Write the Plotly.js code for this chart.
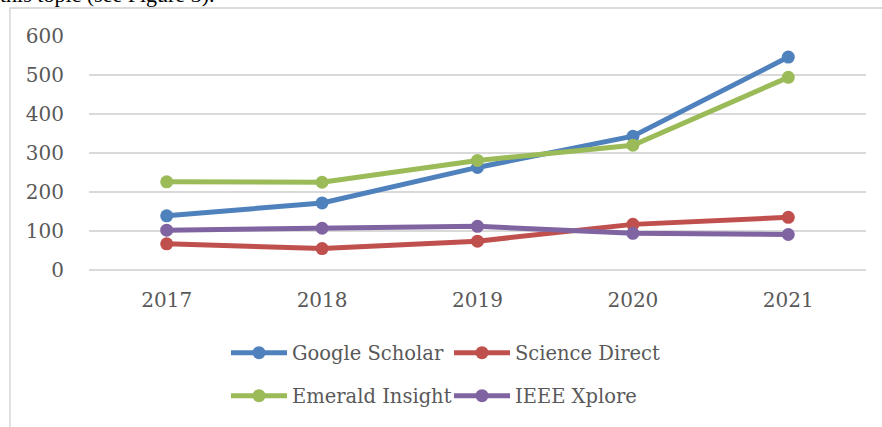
<!DOCTYPE html>
<html><head><meta charset="utf-8">
<script src="https://cdn.plot.ly/plotly-3.0.1.min.js"></script>
<style>body{margin:0;background:#fff}#chart{width:882px;height:427px}</style>
</head><body><div id="chart"></div>
<script>
const years = ['2017', '2018', '2019', '2020', '2021'];
const googleScholar = [139, 172, 263, 343, 546];
const scienceDirect = [67, 55, 74, 117, 135];
const emeraldInsight = [226, 225, 281, 320, 494];
const ieeeXplore = [102, 107, 112, 94, 91];
const yTicks = [0, 100, 200, 300, 400, 500, 600];
const seriesNames = ['Google Scholar', 'Science Direct', 'Emerald Insight', 'IEEE Xplore'];
const introText = 'this topic (see Figure 3).';

const W = 882, H = 427;
const M = {l: 89, r: 16, t: 36, b: 157};
const PW = W - M.l - M.r, PH = H - M.t - M.b;
const px = x => (x - M.l) / PW;
const py = y => (H - M.b - y) / PH;

const colors = ['#4F81BD', '#C0504D', '#9BBB59', '#8064A2'];
const values = [googleScholar, scienceDirect, emeraldInsight, ieeeXplore];
const legends = ['legend', 'legend', 'legend2', 'legend2'];

const traces = values.map((v, i) => ({
  type: 'scatter', mode: 'lines+markers',
  x: years, y: v, name: seriesNames[i],
  line: {color: colors[i], width: 5},
  marker: {color: colors[i], size: 13},
  cliponaxis: false,
  legend: legends[i]
}));

const font = {family: 'DejaVu Serif, serif', color: '#595959'};
const legendBase = {
  orientation: 'h', xanchor: 'left', yanchor: 'middle',
  font: Object.assign({}, font, {size: 19.5}),
  itemwidth: 56, entrywidth: 152, entrywidthmode: 'pixels',
  bgcolor: 'rgba(0,0,0,0)', tracegroupgap: 0, itemclick: false
};

const layout = {
  width: W, height: H,
  margin: M,
  paper_bgcolor: '#fff', plot_bgcolor: '#fff',
  showlegend: true,
  font: font,
  xaxis: {
    type: 'category', range: [-0.5, 4.5],
    showgrid: false, zeroline: false, showline: false,
    ticks: 'outside', ticklen: 12, tickcolor: 'rgba(0,0,0,0)',
    tickfont: Object.assign({}, font, {size: 20}), fixedrange: true
  },
  yaxis: {
    range: [0, 600], tickvals: yTicks, ticktext: yTicks.map(String),
    showgrid: true, gridcolor: '#d9d9d9', gridwidth: 1.5,
    zeroline: true, zerolinecolor: '#d9d9d9', zerolinewidth: 1.5,
    showline: false,
    ticks: 'outside', ticklen: 20, tickcolor: 'rgba(0,0,0,0)',
    tickfont: Object.assign({}, font, {size: 20}), fixedrange: true
  },
  legend: Object.assign({}, legendBase, {x: px(226), y: py(353)}),
  legend2: Object.assign({}, legendBase, {x: px(226), y: py(396)}),
  shapes: [{
    type: 'rect', xref: 'paper', yref: 'paper',
    x0: px(10), x1: px(900), y0: py(8), y1: py(445),
    line: {color: '#d0d0d0', width: 1.3}, layer: 'below'
  }],
  annotations: [{
    text: introText, xref: 'paper', yref: 'paper',
    x: px(-2), y: py(9), xanchor: 'left', yanchor: 'bottom',
    showarrow: false, font: {family: 'Liberation Serif, serif', size: 22, color: '#000'}
  }]
};

Plotly.newPlot('chart', traces, layout, {displayModeBar: false, staticPlot: true});
</script>
</body></html>
